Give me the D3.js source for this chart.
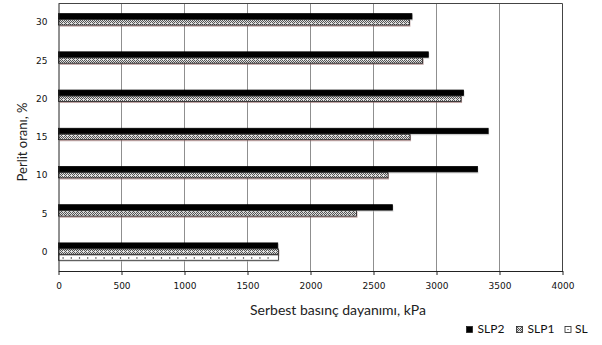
<!DOCTYPE html>
<html><head><meta charset="utf-8">
<script src="https://cdn.jsdelivr.net/npm/d3@7"></script>
<style>body{margin:0;background:#fff}svg{display:block}</style>
</head><body><svg id="c" width="602" height="345"></svg>
<script>
const categories = ["0","5","10","15","20","25","30"];
const seriesNames = ["SLP2","SLP1","SL"];
const slp2 = [1740, 2650, 3325, 3410, 3215, 2935, 2805];
const slp1 = [1745, 2365, 2615, 2790, 3195, 2890, 2785];
const sl   = [1745, null, null, null, null, null, null];
const xTicks = [0, 500, 1000, 1500, 2000, 2500, 3000, 3500, 4000];
const xTitle = "Serbest basınç dayanımı, kPa";
const yTitle = "Perlit oranı, %";

const svg = d3.select("#c");
const L = 58.5, R = 562.5, T = 3.5, B = 271;

const x = d3.scaleLinear().domain([0, 4000]).range([L, R]);
const y = d3.scaleBand().domain(categories).range([B, T]).paddingInner(0.53).paddingOuter(0.265);
const ys = d3.scaleBand().domain(seriesNames).range([0, y.bandwidth()]);

const defs = svg.append("defs");
const p1 = defs.append("pattern").attr("id","pSLP1").attr("patternUnits","userSpaceOnUse")
  .attr("width",4).attr("height",4);
p1.append("rect").attr("width",4).attr("height",4).attr("fill","#e0e0e0");
[[0,0],[2,0],[1,1],[3,1],[0,2],[2,2],[1,3]].forEach(([a,b])=>
  p1.append("rect").attr("x",a).attr("y",b).attr("width",1).attr("height",1).attr("fill","#555"));

// grid
svg.append("g").selectAll("line").data(xTicks.slice(1, -1)).join("line")
  .attr("x1", d => x(d)).attr("x2", d => x(d)).attr("y1", T).attr("y2", B)
  .attr("stroke", "#8f8f8f").attr("stroke-width", 1);

// frame
svg.append("path").attr("d", `M${L},${T}H${R}V${B}`).attr("fill","none").attr("stroke","#444").attr("stroke-width",1);

const rows = categories.map((c, i) => ({c, SLP2: slp2[i], SLP1: slp1[i], SL: sl[i]}));
const bars = [];
rows.forEach(r => seriesNames.forEach(s => { if (r[s] != null) bars.push({c: r.c, s, v: r[s]}); }));

const g = svg.append("g");
// shadows
g.selectAll("rect.sh").data(bars).join("rect").attr("class","sh")
  .attr("x", L + 1).attr("y", d => y(d.c) + ys(d.s) + 1)
  .attr("width", d => x(d.v) - L).attr("height", ys.bandwidth())
  .attr("fill", d => d.s === "SLP1" ? "#8a5a5a" : "#b8b8b8").attr("opacity", 0.55);

g.selectAll("rect.bar").data(bars).join("rect").attr("class","bar")
  .attr("x", L).attr("y", d => y(d.c) + ys(d.s))
  .attr("width", d => x(d.v) - L).attr("height", ys.bandwidth() - 0.6)
  .attr("fill", d => d.s === "SLP2" ? "#000" : d.s === "SLP1" ? "url(#pSLP1)" : "#fff")
  .attr("stroke", d => d.s === "SLP2" ? "#000" : "#222").attr("stroke-width", 0.8);

// SL dots
bars.filter(d => d.s === "SL").forEach(d => {
  const yy = y(d.c) + ys(d.s) + ys.bandwidth() / 2 - 0.5;
  const n = Math.floor((x(d.v) - L) / 8.2);
  g.selectAll(null).data(d3.range(n)).join("rect")
    .attr("x", k => L + 4 + k * 8.2).attr("y", yy).attr("width", 1.2).attr("height", 1.2).attr("fill", "#222");
});

// axes
const xa = svg.append("g").attr("transform", `translate(0,${B})`)
  .call(d3.axisBottom(x).tickValues(xTicks).tickFormat(d3.format("d")).tickSize(4).tickPadding(8).tickSizeOuter(0));
xa.select(".domain").attr("stroke","#222");
xa.selectAll(".tick line").attr("stroke","#222");
xa.selectAll("text").attr("font-family","DejaVu Sans").attr("font-size","9px").attr("fill","#111");

const ya = svg.append("g").attr("transform", `translate(${L},0)`)
  .call(d3.axisLeft(y).tickSize(0).tickPadding(11));
ya.select(".domain").attr("stroke","#222");
ya.selectAll("text").attr("font-family","DejaVu Sans").attr("font-size","9px").attr("fill","#111");

// titles
svg.append("text").attr("x", 250).attr("y", 315).text(xTitle)
  .attr("font-family","Lato").attr("font-size","14px").attr("fill","#222");
svg.append("text").attr("transform","translate(27,142) rotate(-90)").attr("text-anchor","middle")
  .text(yTitle).attr("font-family","Lato").attr("font-size","13px").attr("fill","#222");

// legend
const legItems = [
  {s:"SLP2", sx:466.5, tx:477.5},
  {s:"SLP1", sx:516.5, tx:527.5},
  {s:"SL",   sx:565,   tx:575}
];
const lg = svg.append("g");
legItems.forEach(it => {
  lg.append("rect").attr("x", it.sx).attr("y", 326.5).attr("width", 6).attr("height", 6)
    .attr("fill", it.s === "SLP2" ? "#000" : it.s === "SLP1" ? "url(#pSLP1)" : "#fff")
    .attr("stroke", "#222").attr("stroke-width", 0.8);
  if (it.s === "SL") lg.append("rect").attr("x", it.sx + 2.5).attr("y", 329).attr("width", 1).attr("height", 1).attr("fill", "#222");
  lg.append("text").attr("x", it.tx).attr("y", 333).text(it.s)
    .attr("font-family","Lato").attr("font-size","12px").attr("fill","#111");
});
</script></body></html>
